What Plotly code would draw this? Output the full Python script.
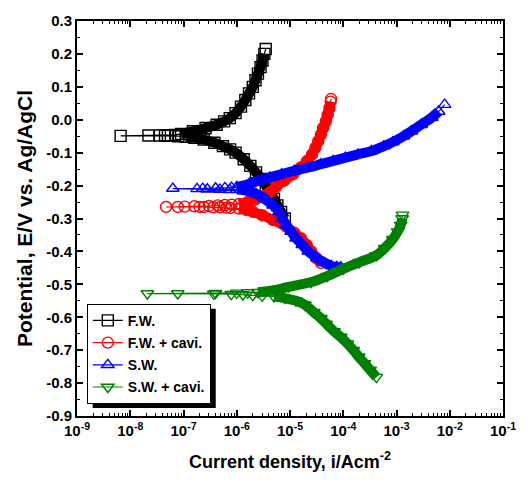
import plotly.graph_objects as go

# ---------------- data (current density A/cm2, potential V vs Ag/AgCl) ----------------
# F.W.
fw_cath_i = [8.0e-6, 6.8e-6, 5.8e-6, 5.0e-6, 4.2e-6, 3.5e-6, 2.9e-6, 2.3e-6, 1.8e-6, 1.35e-6,
             9.5e-7, 7.5e-7, 5.5e-7, 3.8e-7, 2.4e-7, 1.6e-7, 1.1e-7]
fw_cath_E = [-0.30, -0.28, -0.26, -0.24, -0.22, -0.20, -0.18, -0.16, -0.14, -0.12,
             -0.10, -0.09, -0.08, -0.07, -0.06, -0.055, -0.052]
fw_corr_i = [8e-8, 5.1e-8, 3.6e-8, 2.2e-8, 6.6e-9, 4.5e-8, 7e-8]
fw_corr_E = [-0.050, -0.049, -0.048, -0.048, -0.049, -0.047, -0.046]
fw_anod_i = [9e-8, 1.5e-7, 2.6e-7, 4.2e-7, 5.8e-7, 7.4e-7, 9.5e-7, 1.2e-6, 1.45e-6, 1.7e-6,
             2.0e-6, 2.25e-6, 2.5e-6, 2.8e-6, 3.05e-6, 3.3e-6, 3.5e-6]
fw_anod_E = [-0.043, -0.035, -0.025, -0.015, -0.005, 0.005, 0.02, 0.04, 0.06, 0.08,
             0.10, 0.12, 0.14, 0.16, 0.18, 0.20, 0.215]

# F.W. + cavi.
fwc_cath_i = [3.8e-5, 3.1e-5, 2.5e-5, 2.05e-5, 1.6e-5, 1.2e-5, 8.5e-6, 4.8e-6, 3.0e-6, 2.0e-6, 1.5e-6, 1.1e-6]
fwc_cath_E = [-0.435, -0.42, -0.40, -0.38, -0.36, -0.343, -0.325, -0.305, -0.29, -0.28, -0.274, -0.27]
fwc_corr_i = [7.6e-7, 6.4e-7, 4.8e-7, 3.6e-7, 2.4e-7, 2.0e-7, 1.05e-7, 7.8e-8, 4.7e-8,
              1.6e-7, 3.0e-7, 4.4e-7, 6.0e-7, 8.0e-7]
fwc_corr_E = [-0.268, -0.267, -0.266, -0.266, -0.265, -0.265, -0.264, -0.265, -0.265,
              -0.263, -0.262, -0.260, -0.259, -0.258]
fwc_anod_i = [1.1e-6, 1.6e-6, 2.2e-6, 3.1e-6, 4.2e-6, 5.5e-6, 7.8e-6, 1.15e-5, 1.6e-5, 2.1e-5,
              2.6e-5, 3.0e-5, 3.4e-5, 3.8e-5, 4.2e-5, 4.7e-5, 5.1e-5, 5.5e-5, 5.8e-5, 5.9e-5]
fwc_anod_E = [-0.256, -0.25, -0.243, -0.233, -0.22, -0.203, -0.185, -0.165, -0.145, -0.125,
              -0.105, -0.085, -0.065, -0.045, -0.025, -0.005, 0.015, 0.035, 0.055, 0.063]

# S.W.
sw_cath_i = [9e-5, 7.5e-5, 6e-5, 4.5e-5, 3.2e-5, 2.2e-5, 1.7e-5, 1.3e-5, 1.05e-5, 8.5e-6,
             7.2e-6, 6.2e-6, 4.8e-6, 3.3e-6, 2.3e-6, 1.5e-6, 1.0e-6]
sw_cath_E = [-0.448, -0.447, -0.444, -0.435, -0.42, -0.40, -0.38, -0.36, -0.34, -0.32,
             -0.30, -0.28, -0.26, -0.24, -0.225, -0.215, -0.212]
sw_corr_i = [7.3e-7, 4.8e-7, 2.8e-7, 1.8e-7, 6.3e-8, 2.3e-7, 4.0e-7, 6.0e-7, 8.0e-7]
sw_corr_E = [-0.213, -0.212, -0.211, -0.210, -0.209, -0.209, -0.208, -0.207, -0.206]
sw_anod_i = [1.0e-6, 1.7e-6, 2.6e-6, 4.2e-6, 7e-6, 1.2e-5, 2.2e-5, 3.8e-5, 6.5e-5, 1.1e-4,
             1.9e-4, 3.4e-4, 5.8e-4, 8.5e-4, 1.35e-3, 1.9e-3, 2.9e-3, 4.6e-3, 6.2e-3, 8e-3]
sw_anod_E = [-0.204, -0.195, -0.185, -0.175, -0.165, -0.155, -0.145, -0.135, -0.125, -0.115,
             -0.105, -0.095, -0.08, -0.068, -0.05, -0.035, -0.015, 0.007, 0.025, 0.046]

# S.W. + cavi.
swc_cath_i = [4.2e-4, 3.2e-4, 2.5e-4, 1.95e-4, 1.55e-4, 1.2e-4, 9e-5, 6.7e-5, 4.8e-5, 3.8e-5,
              2.8e-5, 1.9e-5, 1.3e-5, 8e-6, 5e-6]
swc_cath_E = [-0.782, -0.76, -0.74, -0.72, -0.70, -0.68, -0.66, -0.643, -0.62, -0.603,
              -0.585, -0.562, -0.55, -0.542, -0.537]
swc_corr_i = [3e-6, 2e-6, 1.3e-6, 7.9e-7, 3.7e-7, 7.8e-8, 2.1e-8, 4e-7, 1e-6, 1.6e-6]
swc_corr_E = [-0.535, -0.533, -0.531, -0.530, -0.529, -0.528, -0.528, -0.527, -0.526, -0.525]
swc_anod_i = [2.5e-6, 5e-6, 9.3e-6, 2.5e-5, 5e-5, 1e-4, 2e-4, 4.2e-4, 6e-4, 8.5e-4,
              1.05e-3, 1.2e-3, 1.28e-3, 1.3e-3]
swc_anod_E = [-0.524, -0.518, -0.508, -0.493, -0.475, -0.453, -0.433, -0.412, -0.39, -0.363,
              -0.34, -0.32, -0.30, -0.289]

x_tickvals = [1e-9, 1e-8, 1e-7, 1e-6, 1e-5, 1e-4, 1e-3, 1e-2, 1e-1]
x_ticktext = ["10<sup>-9</sup>", "10<sup>-8</sup>", "10<sup>-7</sup>", "10<sup>-6</sup>",
              "10<sup>-5</sup>", "10<sup>-4</sup>", "10<sup>-3</sup>", "10<sup>-2</sup>",
              "10<sup>-1</sup>"]
y_tickvals = [0.3, 0.2, 0.1, 0.0, -0.1, -0.2, -0.3, -0.4, -0.5, -0.6, -0.7, -0.8, -0.9]
y_ticktext = ["0.3", "0.2", "0.1", "0.0", "-0.1", "-0.2", "-0.3", "-0.4", "-0.5",
              "-0.6", "-0.7", "-0.8", "-0.9"]

series = [
    ("F.W.", "#000000", "square-open", fw_cath_i, fw_cath_E, fw_corr_i, fw_corr_E, fw_anod_i, fw_anod_E),
    ("F.W. + cavi.", "#FF0000", "circle-open", fwc_cath_i, fwc_cath_E, fwc_corr_i, fwc_corr_E, fwc_anod_i, fwc_anod_E),
    ("S.W.", "#0000FF", "triangle-up-open", sw_cath_i, sw_cath_E, sw_corr_i, sw_corr_E, sw_anod_i, sw_anod_E),
    ("S.W. + cavi.", "#008000", "triangle-down-open", swc_cath_i, swc_cath_E, swc_corr_i, swc_corr_E, swc_anod_i, swc_anod_E),
]

fig = go.Figure()
for k, (name, col, sym, ci, cE, ri, rE, ai, aE) in enumerate(series):
    # dense band of overlapping symbols
    fig.add_trace(go.Scatter(
        x=ci + [None] + ai[:-1], y=cE + [None] + aE[:-1], mode="lines",
        line=dict(color=col, width=10, shape="spline"), showlegend=False, hoverinfo="skip"))
    fig.add_trace(go.Scatter(
        x=ci + ri + ai, y=cE + rE + aE, mode="lines+markers", name=name,
        legendgroup=name,
        line=dict(color=col, width=1.2),
        marker=dict(symbol=sym, size=11, color=col, line=dict(color=col, width=1.4))))

AR = "Arial, Liberation Sans, sans-serif"

fig.update_layout(
    width=528, height=488,
    margin=dict(l=77, r=15, t=15, b=72),
    paper_bgcolor="white", plot_bgcolor="white",
    xaxis=dict(
        type="log", range=[-9, -1], tickmode="array", tickvals=x_tickvals, ticktext=x_ticktext,
        ticks="inside", ticklen=6, tickwidth=1.5, tickcolor="black",
        showline=True, linewidth=2, linecolor="black", mirror="allticks",
        showgrid=False, zeroline=False,
        tickfont=dict(family=AR, size=15, color="black", weight="bold"),
        minor=dict(ticks="inside", ticklen=3, tickwidth=1, tickcolor="black", dtick="D1", showgrid=False),
        title=dict(text="Current density, i/Acm<sup>-2</sup>",
                   font=dict(family=AR, size=18, color="black", weight="bold"), standoff=17),
    ),
    yaxis=dict(
        range=[-0.9, 0.3], tickmode="array", tickvals=y_tickvals, ticktext=y_ticktext,
        ticks="inside", ticklen=6, tickwidth=1.5, tickcolor="black",
        showline=True, linewidth=2, linecolor="black", mirror="allticks",
        showgrid=False, zeroline=False,
        tickfont=dict(family=AR, size=15, color="black", weight="bold"),
        minor=dict(ticks="inside", ticklen=3, tickwidth=1, tickcolor="black", dtick=0.05, tick0=0, showgrid=False),
        title=dict(text="Potential, E/V vs. Ag/AgCl",
                   font=dict(family=AR, size=21, color="black", weight="bold"),
                   standoff=8),
    ),
    legend=dict(
        x=0.023, y=0.284, xanchor="left", yanchor="top",
        bgcolor="white", bordercolor="black", borderwidth=1,
        font=dict(family=AR, size=14, color="black", weight="bold"),
        tracegroupgap=1,
    ),
    shapes=[dict(type="rect", xref="paper", yref="paper", x0=0.0367, x1=0.3257, y0=0.02, y1=0.2718,
                 fillcolor="black", line=dict(width=0), layer="above")],
)

fig.write_html("out.html")
